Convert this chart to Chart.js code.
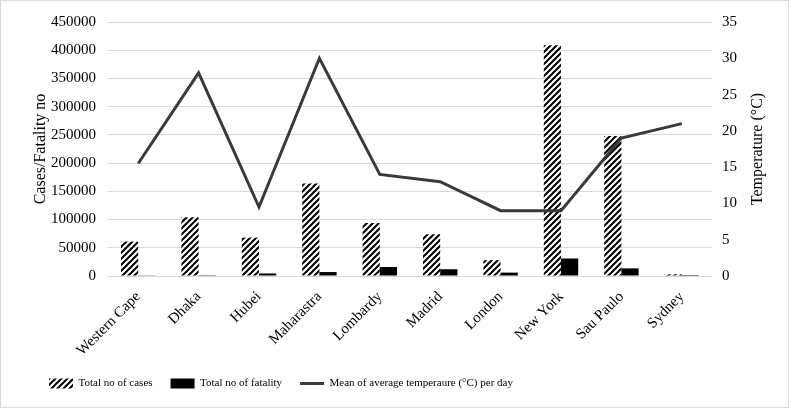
<!DOCTYPE html>
<html>
<head>
<meta charset="utf-8">
<script src="https://cdn.jsdelivr.net/npm/chart.js"></script>
<style>
  html, body { margin: 0; padding: 0; background: #fff; }
  #wrap { position: relative; width: 789px; height: 408px; box-sizing: border-box; border: 1px solid #d9d9d9; }
</style>
</head>
<body>
<div id="wrap"><canvas id="chart"></canvas></div>
<script>
// Cases, fatalities and mean temperature per region
const regions = ['Western Cape', 'Dhaka', 'Hubei', 'Maharastra', 'Lombardy', 'Madrid', 'London', 'New York', 'Sau Paulo', 'Sydney'];
const totalCases = [61000, 104000, 68000, 164000, 94000, 74000, 28000, 409000, 248000, 3000];
const totalFatality = [500, 1500, 4500, 7000, 16000, 12000, 6000, 31000, 13500, 100];
const meanTemp = [15.5, 28, 9.5, 30, 14, 13, 9, 9, 19, 21];

const leftTicks = [0, 50000, 100000, 150000, 200000, 250000, 300000, 350000, 400000, 450000];
const rightTicks = [0, 5, 10, 15, 20, 25, 30, 35];

const serif = '"Liberation Serif", "Times New Roman", serif';
const gridColor = '#d9d9d9';
const rightTitle = 'Temperature (°C)';

// diagonal hatch like "////"
function makeHatch() {
  const c = document.createElement('canvas');
  c.width = 6; c.height = 6;
  const g = c.getContext('2d');
  g.strokeStyle = '#000';
  g.lineWidth = 2;
  g.beginPath();
  g.moveTo(-1, 7); g.lineTo(7, -1);
  g.moveTo(-4, 4); g.lineTo(4, -4);
  g.moveTo(2, 10); g.lineTo(10, 2);
  g.stroke();
  return g.createPattern(c, 'repeat');
}
const hatch = makeHatch();

// right axis title reads bottom-to-top like the left one
const rightTitlePlugin = {
  id: 'rightTitle',
  afterDraw(chart) {
    const ax = chart.scales.y1;
    const ctx = chart.ctx;
    ctx.save();
    ctx.translate(ax.right - 15, (chart.chartArea.top + chart.chartArea.bottom) / 2);
    ctx.rotate(-Math.PI / 2);
    ctx.font = '16px ' + serif;
    ctx.fillStyle = '#000';
    ctx.textAlign = 'center';
    ctx.textBaseline = 'middle';
    ctx.fillText(rightTitle, 0, 0);
    ctx.restore();
  }
};

new Chart(document.getElementById('chart'), {
  type: 'bar',
  data: {
    labels: regions,
    datasets: [{
      label: 'Total no of cases',
      data: totalCases,
      backgroundColor: hatch,
      borderWidth: 0,
      yAxisID: 'y',
      pointStyle: 'rect',
      categoryPercentage: 0.57,
      barPercentage: 1
    }, {
      label: 'Total no of fatality',
      data: totalFatality,
      backgroundColor: '#000',
      borderWidth: 0,
      yAxisID: 'y',
      pointStyle: 'rect',
      categoryPercentage: 0.57,
      barPercentage: 1
    }, {
      type: 'line',
      label: 'Mean of average temperaure (°C) per day',
      data: meanTemp,
      borderColor: '#3a3a3a',
      backgroundColor: '#3a3a3a',
      borderWidth: 3,
      borderJoinStyle: 'miter',
      pointRadius: 0,
      pointStyle: 'line',
      tension: 0,
      yAxisID: 'y1',
      order: -1
    }]
  },
  options: {
    responsive: true,
    maintainAspectRatio: false,
    animation: false,
    layout: { padding: { left: 30, right: 15, top: 12, bottom: 8 } },
    scales: {
      x: {
        grid: { display: false },
        border: { display: false },
        ticks: { color: '#000', font: { family: serif, size: 15 }, maxRotation: 45, minRotation: 45, padding: 4 },
        afterFit: (ax) => { ax.height = 84; }
      },
      y: {
        position: 'left',
        min: 0, max: 450000,
        afterBuildTicks: (ax) => { ax.ticks = leftTicks.map(v => ({ value: v })); },
        afterFit: (ax) => { ax.width = 77; },
        grid: { color: gridColor, lineWidth: 1, drawTicks: false },
        border: { display: false },
        ticks: { color: '#000', font: { family: serif, size: 15 }, padding: 12, callback: (v) => String(v) },
        title: { display: true, text: 'Cases/Fatality no', color: '#000', font: { family: serif, size: 16 }, padding: 0 }
      },
      y1: {
        position: 'right',
        min: 0, max: 35,
        afterBuildTicks: (ax) => { ax.ticks = rightTicks.map(v => ({ value: v })); },
        afterFit: (ax) => { ax.width = 61; },
        grid: { display: false, drawTicks: false },
        border: { display: false },
        ticks: { color: '#000', font: { family: serif, size: 15 }, padding: 10, callback: (v) => String(v) },
        // space is kept here, text is drawn by rightTitlePlugin
        title: { display: true, text: rightTitle, color: 'rgba(0,0,0,0)', font: { family: serif, size: 16 }, padding: 8 }
      }
    },
    plugins: {
      tooltip: { enabled: false },
      legend: {
        position: 'bottom',
        align: 'start',
        labels: {
          color: '#000',
          font: { family: serif, size: 11 },
          usePointStyle: true,
          pointStyleWidth: 24,
          boxHeight: 10,
          padding: 18,
          sort: (a, b) => a.datasetIndex - b.datasetIndex
        }
      }
    }
  },
  plugins: [rightTitlePlugin]
});
</script>
</body>
</html>
